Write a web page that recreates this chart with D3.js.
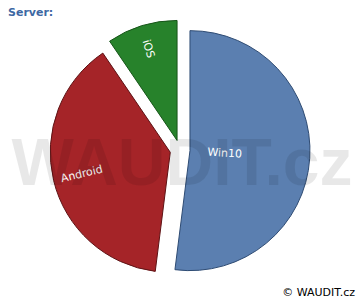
<!DOCTYPE html>
<html>
<head>
<meta charset="utf-8">
<script src="https://cdn.jsdelivr.net/npm/d3@7"></script>
<style>
  body { margin: 0; background: #fff; }
  svg { display: block; font-family: "DejaVu Sans", sans-serif; }
</style>
</head>
<body>
<div id="chart"></div>
<script>
var width = 360, height = 300;

// data
var labels = ["Win10", "Android", "iOS"];
var values = [52, 38.5, 9.5];
var colors = ["#5b7fb0", "#a52428", "#27822b"];
var strokes = ["#2e4b73", "#5e1315", "#175519"];

// layout (not data)
var cx = 180, cy = 150, radius = 120, explode = 10;
var labelFrac = [0.29, 0.76, 0.8];

var svg = d3.select("#chart").append("svg")
    .attr("width", width)
    .attr("height", height);

svg.append("text")
    .attr("x", 8).attr("y", 16)
    .attr("font-size", 11).attr("font-weight", "bold")
    .attr("fill", "#3d68a3")
    .text("Server:");

var pie = d3.pie().sort(null).value(function(d){ return d; });
var arc = d3.arc().innerRadius(0).outerRadius(radius);
var arcs = pie(values);

var g = svg.append("g").attr("transform", "translate(" + cx + "," + cy + ")");

var slice = g.selectAll("g.slice")
    .data(arcs)
    .enter().append("g")
    .attr("class", "slice")
    .attr("transform", function(d){
        var a = (d.startAngle + d.endAngle) / 2;
        return "translate(" + (explode * Math.sin(a)) + "," + (-explode * Math.cos(a)) + ")";
    });

slice.append("path")
    .attr("d", arc)
    .attr("fill", function(d, i){ return colors[i]; })
    .attr("stroke", function(d, i){ return strokes[i]; })
    .attr("stroke-width", 1);

slice.append("text")
    .attr("transform", function(d, i){
        var a = (d.startAngle + d.endAngle) / 2;
        var r = radius * labelFrac[i];
        var deg = a * 180 / Math.PI - 90;
        if (deg > 90) deg -= 180;
        return "translate(" + (r * Math.sin(a)) + "," + (-r * Math.cos(a)) + ") rotate(" + deg + ")";
    })
    .attr("text-anchor", "middle")
    .attr("dy", "0.35em")
    .attr("font-size", 11)
    .attr("fill", "#fff")
    .text(function(d, i){ return labels[i]; });

// watermark on top
svg.append("text")
    .attr("x", 182).attr("y", 185)
    .attr("text-anchor", "middle")
    .attr("font-size", 66).attr("font-weight", "bold")
    .attr("font-family", "'Liberation Sans', Arial, sans-serif")
    .attr("fill", "#000").attr("fill-opacity", 0.09)
    .text("WAUDIT.cz");

svg.append("text")
    .attr("x", 355).attr("y", 296)
    .attr("text-anchor", "end")
    .attr("font-size", 11)
    .attr("fill", "#000")
    .text("© WAUDIT.cz");
</script>
</body>
</html>
